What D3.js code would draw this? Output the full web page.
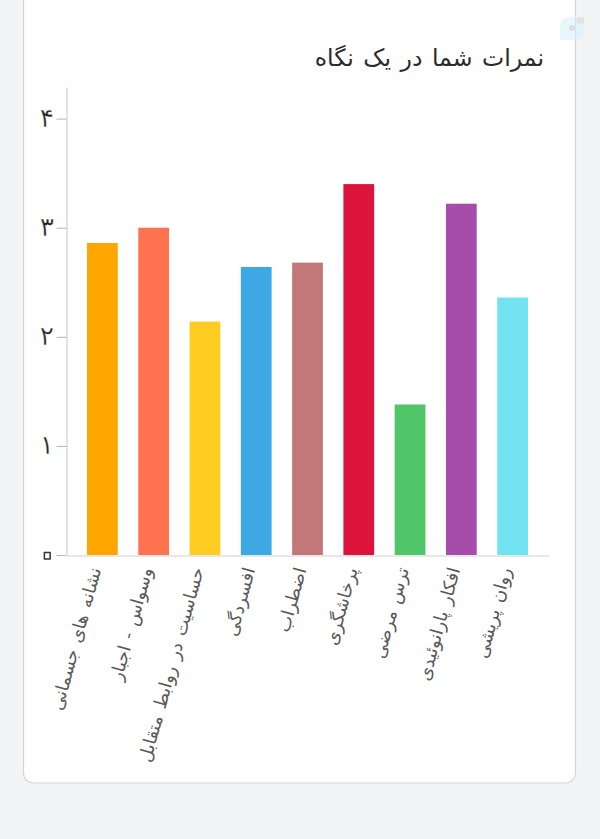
<!DOCTYPE html>
<html lang="fa">
<head>
<meta charset="utf-8">
<script src="https://cdn.jsdelivr.net/npm/d3@7/dist/d3.min.js"></script>
<style>
html,body{margin:0;padding:0;background:#f3f4f6;}
svg{display:block;}
text{font-family:"DejaVu Sans",sans-serif;}
</style>
</head>
<body>
<svg id="chart" width="600" height="839"></svg>
<script>
const categories = ["نشانه های جسمانی","وسواس - اجبار","حساسیت در روابط متقابل","افسردگی","اضطراب","پرخاشگری","ترس مرضی","افکار پارانوئیدی","روان پریشی"];
const scores = [2.86,3.0,2.14,2.64,2.68,3.40,1.38,3.22,2.36];
const barColors = ["#FFA500","#FF7350","#FFCC22","#3DA8E4","#C27878","#DC143C","#50C668","#A64DAC","#70E2F0"];
const tickValues = [0,1,2,3,4];
const tickLabels = ["۰","۱","۲","۳","۴"];
const chartTitle = "نمرات شما در یک نگاه";

const svg = d3.select("#chart");
svg.append("rect").attr("x",23.5).attr("y",-20).attr("width",552).attr("height",803)
  .attr("rx",10).attr("fill","#fff").attr("stroke","#d2d4d6").attr("stroke-width",1.2);

// faint watermark, lying across the card edge
const wm = svg.append("g");
wm.append("path").attr("d","M560 26a9 9 0 0 1 9-9h15v15a8 8 0 0 1-8 8h-16z").attr("fill","#d9f0fb").attr("opacity",0.6);
wm.append("rect").attr("x",577).attr("y",17).attr("width",7).attr("height",6.5).attr("fill","#e2e2e2");
wm.append("circle").attr("cx",572).attr("cy",28).attr("r",3).attr("fill","#dcdfe2");

svg.append("text").attr("x",544).attr("y",66).attr("text-anchor","start").attr("direction","rtl")
  .attr("font-size",23.6).attr("word-spacing",2).attr("fill","#2b2b2b").text(chartTitle);

const x = d3.scaleBand().domain(categories).range([66.5,548.5]).padding(0.4);
const y = d3.scaleLinear().domain([0,4.29]).range([555,87]);

svg.selectAll("rect.bar").data(categories).join("rect").attr("class","bar")
  .attr("x",d=>x(d)).attr("width",x.bandwidth())
  .attr("y",(d,i)=>y(scores[i])).attr("height",(d,i)=>y(0)-y(scores[i]))
  .attr("fill",(d,i)=>barColors[i]);

const yAxis = svg.append("g").attr("transform","translate(66.5,0)")
  .call(d3.axisLeft(y).tickValues(tickValues).tickFormat((d,i)=>tickLabels[i]).tickSize(10).tickSizeOuter(0));
yAxis.select(".domain").attr("stroke","#cfcfcf").attr("stroke-width",1.2);
yAxis.selectAll(".tick line").attr("stroke","#b5b5b5");
// thin the heavy fallback digits with a white outline
yAxis.selectAll(".tick text").attr("font-size",26.5).attr("fill","#222").attr("x",-12.5).attr("dy","0.28em")
  .attr("stroke","#fff").attr("stroke-width",0.4);
// the zero glyph reads as a small ring in the reference
yAxis.selectAll(".tick text").filter(d=>d===0)
  .attr("font-size",54).attr("fill","#fff").attr("stroke","#333").attr("stroke-width",1.5)
  .attr("stroke-linejoin","round").attr("x",-4.8).attr("dy","0.29em");

const xAxis = svg.append("g").attr("transform","translate(0,555.5)")
  .call(d3.axisBottom(x).tickSize(0).tickSizeOuter(0));
xAxis.select(".domain").attr("stroke","#cfcfcf").attr("stroke-width",1.2);
xAxis.selectAll(".tick text")
  .attr("font-size",17.8).attr("word-spacing",2).attr("fill","#5a5a5a")
  .attr("direction","rtl").attr("text-anchor","start")
  .attr("y",0).attr("x",0).attr("dy",0)
  .attr("transform","translate(-1,14) rotate(-74.5)");
</script>
</body>
</html>
